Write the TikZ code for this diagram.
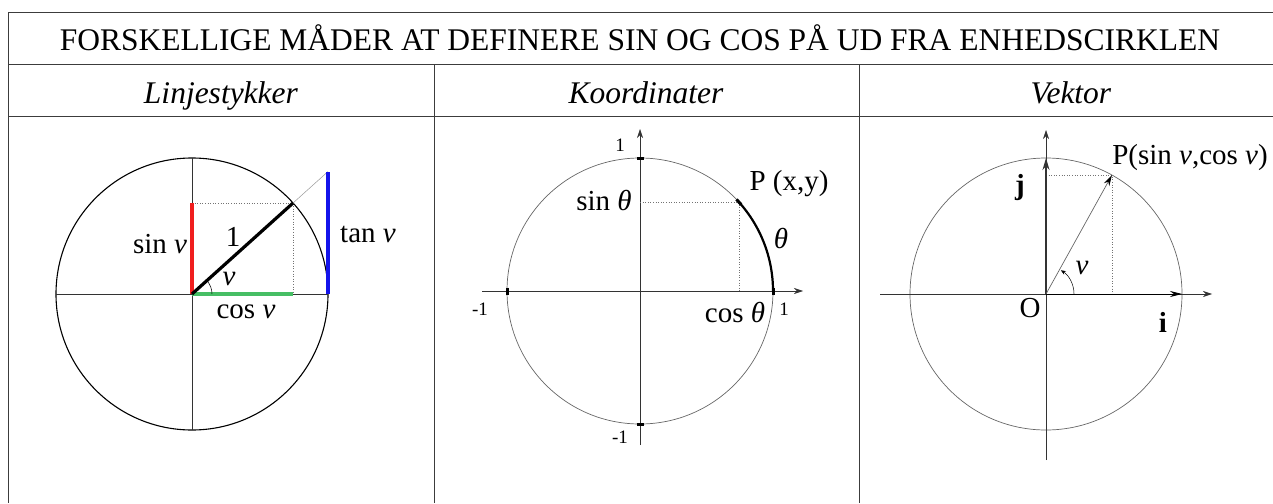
\documentclass[tikz,border=0pt]{standalone}
\usepackage{fontspec}
\setmainfont{Liberation Serif}
\usetikzlibrary{calc,arrows.meta}
\definecolor{sinred}{RGB}{240,30,30}
\definecolor{cosgreen}{RGB}{70,190,100}
\definecolor{tanblue}{RGB}{20,20,235}
\definecolor{rulegray}{RGB}{60,60,60}

\begin{document}
\begin{tikzpicture}[x=1pt, y=-1pt,
        rule/.style={draw=rulegray, line width=0.9pt},
        head/.style={font=\fontsize{31.5}{36}\selectfont, inner sep=0pt, anchor=base},
        lbl/.style={font=\fontsize{29}{34}\selectfont, inner sep=0pt},
        ticklbl/.style={font=\fontsize{19}{22}\selectfont, inner sep=0pt},
        axis/.style={draw=black!80, line width=0.6pt},
        arrowaxis/.style={axis, -{Stealth[length=9pt, width=6pt]}},
        unit/.style={draw=black!60, line width=0.7pt},
        helper/.style={draw=black!55, dotted, line width=0.6pt},
        seg/.style={line width=3.2pt},
        tickmark/.style={line width=3pt}]

        \useasboundingbox (0,0) rectangle (1273,503);

        % table
        \draw[rule] (1273,12) -- (8,12) -- (8,503);
        \draw[rule] (8,64) -- (1273,64);
        \draw[rule] (8,116) -- (1273,116);
        \draw[rule] (434,64) -- (434,503);
        \draw[rule] (859,64) -- (859,503);

        \node[head] (TITLE) at (640,51) {FORSKELLIGE MÅDER AT DEFINERE SIN OG COS PÅ UD FRA ENHEDSCIRKLEN};
        \node[head] (LINJE) at (221,103) {\textit{Linjestykker}};
        \node[head] (KOORD) at (646,103) {\textit{Koordinater}};
        \node[head] (VEKT) at (1071,103) {\textit{Vektor}};

        % linjestykker
        \coordinate (O1) at (192,294);
        \coordinate (P1) at ($(O1)+(-42:136)$);
        \coordinate (A1) at ($(O1)+(136,0)$);
        \coordinate (T1) at ($(O1)+(136,{-136*tan(42)})$);
        \draw[line width=1.1pt] (O1) circle[radius=136];
        \draw[axis] ($(O1)+(-136,0)$) -- (A1);
        \draw[axis] ($(O1)+(0,-136)$) -- ($(O1)+(0,136)$);
        \draw[helper] (O1 |- P1) -- (P1) -- (P1 |- O1);
        \draw[draw=black!40, line width=0.5pt] (P1) -- (T1);
        \draw[seg, sinred] (O1) -- (O1 |- P1);
        \draw[seg, cosgreen] (O1) -- (P1 |- O1);
        \draw[seg, tanblue] (A1) -- (T1);
        \draw[seg] (O1) -- (P1);
        \draw[line width=0.5pt] ($(O1)+(20,0)$) arc[start angle=0, end angle=-42, radius=20];

        \node[lbl] (SINV) at (160,244) {sin \textit{v}};
        \node[lbl] (ONE) at (233,237) {1};
        \node[lbl] (ANG1) at (229,279) {\textit{v}};
        \node[lbl] (COSV) at (246,312) {cos \textit{v}};
        \node[lbl] (TANV) at (368,234) {tan \textit{v}};

        % koordinater
        \coordinate (O2) at (640,291);
        \coordinate (P2) at ($(O2)+(-42:133)$);
        \draw[unit] (O2) circle[radius=133];
        \draw[arrowaxis] ($(O2)+(-158,0)$) -- ($(O2)+(163,0)$);
        \draw[arrowaxis] ($(O2)+(0,154)$) -- ($(O2)+(0,-162)$);
        \draw[helper] (O2 |- P2) -- (P2) -- (P2 |- O2);
        \draw[line width=2.2pt] (P2) arc[start angle=-42, end angle=0, radius=133];
        \foreach \a in {0,90,180,270,-42}
            \draw[tickmark] ($(O2)+(\a:133)+(\a+90:3.5)$) -- ($(O2)+(\a:133)+(\a-90:3.5)$);

        \node[ticklbl] (YTOP) at (620,145) {1};
        \node[ticklbl] (YBOT) at (620,437) {-1};
        \node[ticklbl] (XLEFT) at (480,309) {-1};
        \node[ticklbl] (XRIGHT) at (784,309) {1};
        \node[lbl] (SINT) at (604,201) {sin \textit{θ}};
        \node[lbl] (COST) at (735,312) {cos \textit{θ}};
        \node[lbl] (PXY) at (789,184) {P (x,y)};
        \node[lbl] (ARC) at (781,238) {\textit{θ}};

        % vektor
        \coordinate (O3) at (1046,294);
        \coordinate (P3) at ($(O3)+(-61:136)$);
        \coordinate (I3) at ($(O3)+(136,0)$);
        \coordinate (J3) at ($(O3)+(0,-136)$);
        \draw[unit] (O3) circle[radius=136];
        \draw[arrowaxis] ($(O3)+(-166,0)$) -- ($(O3)+(166,0)$);
        \draw[arrowaxis] ($(O3)+(0,166)$) -- ($(O3)+(0,-164)$);
        \draw[helper] (O3 |- P3) -- (P3) -- (P3 |- O3);
        \draw[line width=1.4pt, draw=black!80, -{Stealth[length=12pt, width=7pt]}] (O3) -- (J3);
        \draw[line width=0.8pt, -{Stealth[length=12pt, width=6pt]}] (O3) -- (I3);
        \draw[unit, -{Stealth[length=11pt, width=6pt, black]}] (O3) -- (P3);
        \draw[line width=0.5pt, -{Stealth[length=5pt, width=4pt]}] ($(O3)+(28,0)$) arc[start angle=0, end angle=-58, radius=28];

        \node[lbl] (PSC) at (1190,158) {P(sin \textit{v},cos \textit{v})};
        \node[lbl] (JVEC) at (1020,188) {\textbf{j}};
        \node[lbl] (ORIG) at (1030,308) {O};
        \node[lbl] (IVEC) at (1163,322) {\textbf{i}};
        \node[lbl] (ANG3) at (1082,268) {\textit{v}};

\end{tikzpicture}
\end{document}
